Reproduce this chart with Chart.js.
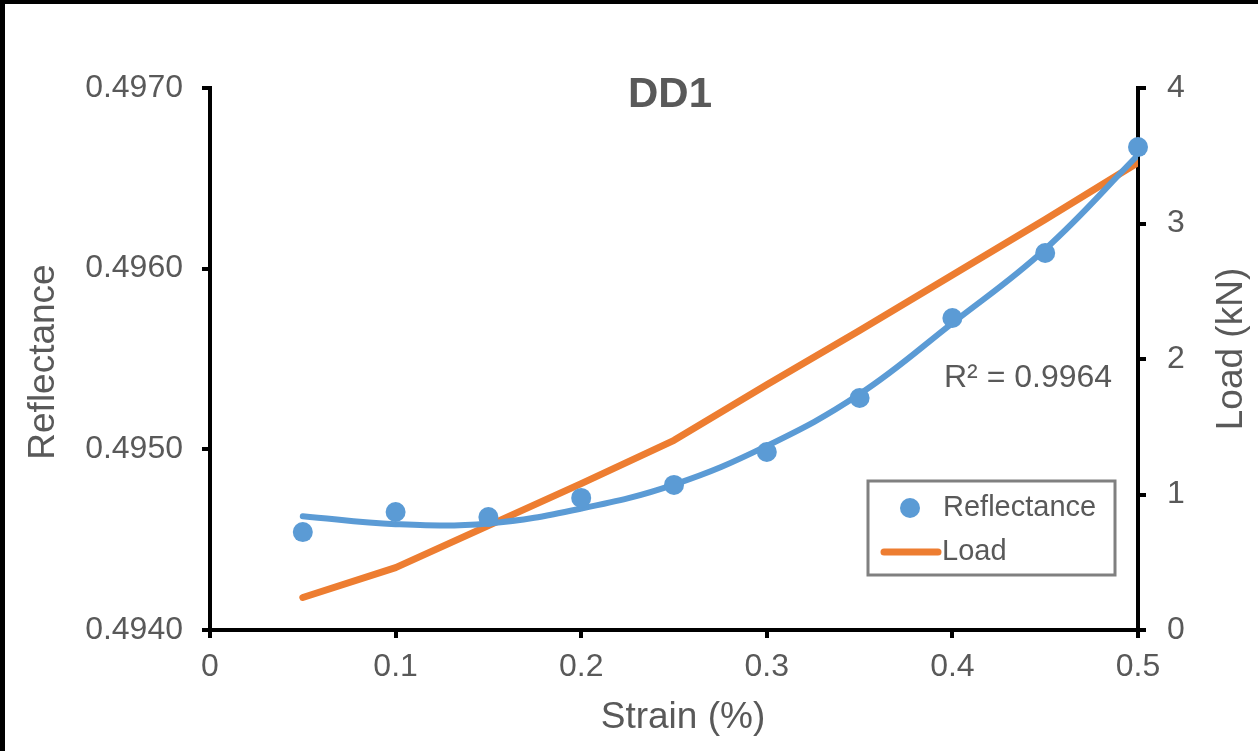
<!DOCTYPE html>
<html>
<head>
<meta charset="utf-8">
<script src="https://cdn.jsdelivr.net/npm/chart.js@4/dist/chart.umd.min.js"></script>
<style>
  html, body { margin: 0; padding: 0; background: #fff; }
  #wrap { position: relative; width: 1258px; height: 751px; overflow: hidden; }
  #frameTop { position: absolute; left: 0; top: 0; width: 1258px; height: 4px; background: #000; }
  #frameLeft { position: absolute; left: 0; top: 0; width: 5px; height: 751px; background: #000; }
</style>
</head>
<body>
<div id="wrap">
  <canvas id="chart" width="1258" height="751"></canvas>
  <div id="frameTop"></div>
  <div id="frameLeft"></div>
</div>
<script>
// data
const strain = [0.05, 0.1, 0.15, 0.2, 0.25, 0.3, 0.35, 0.4, 0.45, 0.5]
const reflectance = [0.494542, 0.494653, 0.494625, 0.494731, 0.494803, 0.494985, 0.495284, 0.495727, 0.496087, 0.496673]
const reflTrend = [0.494630, 0.494586, 0.494590, 0.494672, 0.494805, 0.495019, 0.495306, 0.495699, 0.496108, 0.496629]
const load = [0.24, 0.46, 0.77, 1.08, 1.40, 1.81, 2.21, 2.62, 3.03, 3.45]

const xTicks = [0, 0.1, 0.2, 0.3, 0.4, 0.5]
const leftTicks = [0.4940, 0.4950, 0.4960, 0.4970]
const rightTicks = [0, 1, 2, 3, 4]

const chartTitle = 'DD1'
const xTitle = 'Strain (%)'
const leftTitle = 'Reflectance'
const rightTitle = 'Load (kN)'
const r2Text = 'R² = 0.9964'

const BLUE = '#5B9BD5'
const ORANGE = '#ED7D31'
const TEXT = '#595959'
const FONT = '"Liberation Sans", Arial, sans-serif'

function pts(xs, ys) {
    return xs.map((x, i) => ({x: x, y: ys[i]}))
}

function axisGrid() {
    return {
        drawOnChartArea: false,
        drawTicks: true,
        tickLength: 8,
        lineWidth: 4,
        color: '#000'
    }
}

const textPlugin = {
    id: 'texts',
    afterDraw(chart) {
        const ctx = chart.ctx
        ctx.save()
        ctx.fillStyle = TEXT
        ctx.textBaseline = 'middle'

        // title inside plot
        ctx.font = 'bold 42px ' + FONT
        ctx.textAlign = 'center'
        ctx.fillText(chartTitle, 670, 95)

        // axis titles
        ctx.font = '37px ' + FONT
        ctx.fillText(xTitle, 683, 718)

        ctx.save()
        ctx.translate(44, 362)
        ctx.rotate(-Math.PI / 2)
        ctx.fillText(leftTitle, 0, 0)
        ctx.restore()

        ctx.save()
        ctx.translate(1232, 349)
        ctx.rotate(-Math.PI / 2)
        ctx.fillText(rightTitle, 0, 0)
        ctx.restore()

        // R² label
        ctx.font = '32px ' + FONT
        ctx.textAlign = 'left'
        ctx.fillText(r2Text, 944, 378)

        // legend
        ctx.strokeStyle = '#808080'
        ctx.lineWidth = 3
        ctx.strokeRect(868, 481, 247, 94)

        ctx.fillStyle = BLUE
        ctx.beginPath()
        ctx.arc(910, 508, 10, 0, Math.PI * 2)
        ctx.fill()

        ctx.strokeStyle = ORANGE
        ctx.lineWidth = 7
        ctx.lineCap = 'round'
        ctx.beginPath()
        ctx.moveTo(884, 552)
        ctx.lineTo(938, 552)
        ctx.stroke()

        ctx.fillStyle = TEXT
        ctx.font = '29px ' + FONT
        ctx.fillText('Reflectance', 943, 508)
        ctx.fillText('Load', 942, 552)
        ctx.restore()
    }
}

new Chart(document.getElementById('chart'), {
    type: 'scatter',
    data: {
        datasets: [
            {
                label: 'Reflectance',
                data: pts(strain, reflectance),
                yAxisID: 'yL',
                showLine: false,
                clip: false,
                pointRadius: 10,
                pointHoverRadius: 10,
                pointBackgroundColor: BLUE,
                pointBorderColor: BLUE,
                pointBorderWidth: 0,
                order: 0
            },
            {
                label: 'Trend',
                data: pts(strain, reflTrend),
                yAxisID: 'yL',
                showLine: true,
                borderColor: BLUE,
                borderWidth: 6,
                borderCapStyle: 'round',
                tension: 0.4,
                pointRadius: 0,
                order: 1
            },
            {
                label: 'Load',
                data: pts(strain, load),
                yAxisID: 'yR',
                showLine: true,
                borderColor: ORANGE,
                borderWidth: 7,
                borderCapStyle: 'round',
                borderJoinStyle: 'round',
                tension: 0,
                pointRadius: 0,
                order: 2
            }
        ]
    },
    options: {
        responsive: false,
        animation: false,
        layout: { padding: { top: 88, left: 0, right: 0, bottom: 0 } },
        plugins: {
            legend: { display: false },
            title: { display: false },
            tooltip: { enabled: false }
        },
        scales: {
            x: {
                type: 'linear',
                min: 0,
                max: 0.5,
                grid: axisGrid(),
                border: { display: true, color: '#000', width: 4 },
                afterBuildTicks: s => { s.ticks = xTicks.map(v => ({value: v})) },
                afterFit: s => { s.height = 121 },
                ticks: {
                    padding: 10,
                    color: TEXT,
                    font: { family: FONT, size: 32 },
                    maxRotation: 0,
                    callback: v => String(Number(v.toFixed(1)))
                }
            },
            yL: {
                type: 'linear',
                position: 'left',
                min: 0.4940,
                max: 0.4970,
                grid: axisGrid(),
                border: { display: true, color: '#000', width: 4 },
                afterBuildTicks: s => { s.ticks = leftTicks.map(v => ({value: v})) },
                afterFit: s => { s.width = 210 },
                ticks: {
                    padding: 19,
                    color: TEXT,
                    font: { family: FONT, size: 32 },
                    callback: v => v.toFixed(4)
                }
            },
            yR: {
                type: 'linear',
                position: 'right',
                min: 0,
                max: 4,
                grid: axisGrid(),
                border: { display: true, color: '#000', width: 4 },
                afterBuildTicks: s => { s.ticks = rightTicks.map(v => ({value: v})) },
                afterFit: s => { s.width = 120 },
                ticks: {
                    padding: 21,
                    color: TEXT,
                    font: { family: FONT, size: 32 },
                    callback: v => String(v)
                }
            }
        }
    },
    plugins: [textPlugin]
})
</script>
</body>
</html>
